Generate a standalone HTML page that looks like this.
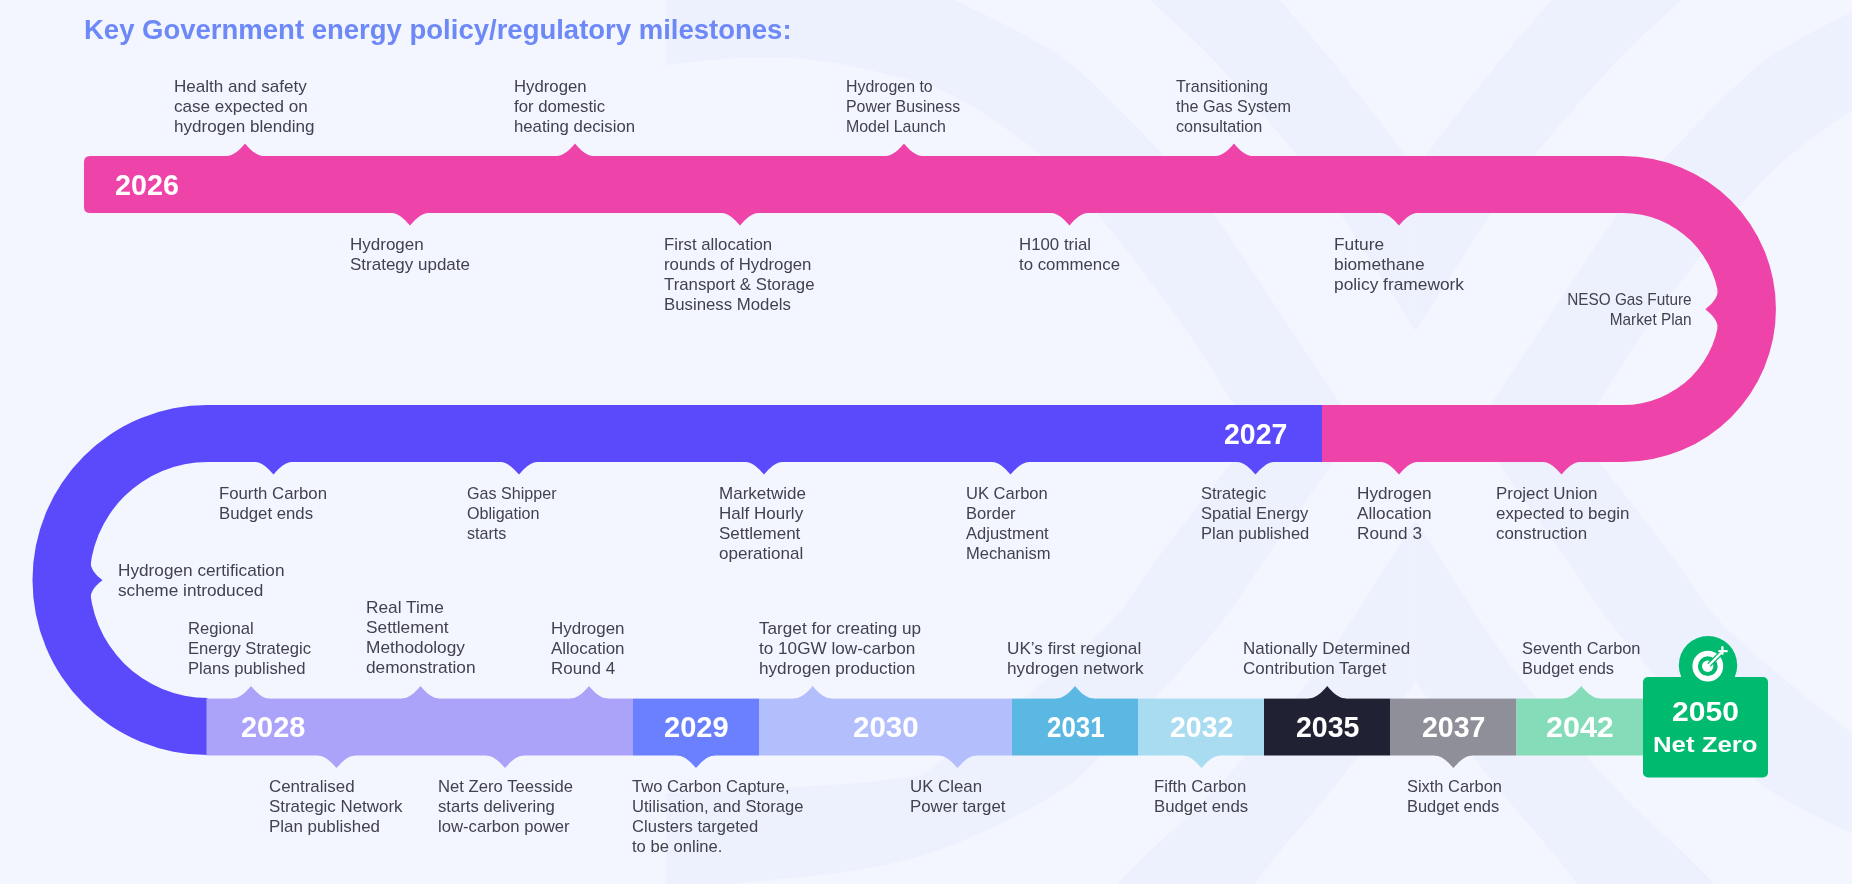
<!DOCTYPE html>
<html><head><meta charset="utf-8"><style>
html,body{margin:0;padding:0;}
body{width:1852px;height:884px;overflow:hidden;position:relative;background:#F3F6FE;font-family:"Liberation Sans",sans-serif;}
.l{position:absolute;font-size:16.6px;line-height:20px;color:#42424F;white-space:nowrap;}
.y{position:absolute;color:#fff;font-weight:bold;white-space:nowrap;}
.t{position:absolute;left:84px;top:12.3px;font-size:27.5px;line-height:36px;font-weight:bold;color:#6D88F7;white-space:nowrap;}
</style></head><body>
<svg width="1852" height="884" viewBox="0 0 1852 884" style="position:absolute;left:0;top:0"><rect x="0" y="0" width="1852" height="884" fill="#F3F6FE"/><defs><clipPath id="cp"><rect x="666.5" y="0" width="1300" height="884"/></clipPath><path id="arm" d="M850,-50 C867.3,-41.7 924.5,-14.4 954.0,0.0 C983.5,14.4 1005.5,24.1 1026.7,36.2 C1047.9,48.3 1058.4,52.8 1081.0,72.4 C1103.6,92.0 1140.4,130.4 1162.4,153.8 C1184.4,177.2 1191.6,183.6 1213.0,213.0 C1234.4,242.4 1270.2,298.8 1291.0,330.0 C1311.8,361.2 1326.8,383.2 1337.6,400.0 C1348.4,416.8 1352.9,425.4 1356.0,430.5 C1341.3,451.2 1292.1,520.9 1268.0,555.0 C1243.9,589.1 1239.2,601.5 1211.2,635.0 C1183.2,668.5 1126.9,729.2 1100.0,756.2 C1073.1,783.2 1074.6,782.5 1050.0,797.3 C1025.4,812.1 983.1,832.9 952.4,844.8 C921.7,856.7 898.8,862.5 866.0,868.6 C833.2,874.7 791.8,877.9 755.8,881.5 C719.8,885.1 667.6,888.6 650.0,890.0 L600,890 L600,795 C611.0,794.8 618.1,796.0 666.0,793.5 C713.9,791.0 840.6,786.2 887.6,780.0 C934.6,773.8 912.6,780.4 947.7,756.2 C982.8,732.0 1062.6,668.5 1098.0,635.0 C1133.4,601.5 1134.2,588.4 1160.0,555.0 C1185.8,521.6 1237.5,454.8 1253.0,434.7 C1249.3,428.9 1242.2,417.4 1231.0,400.0 C1219.8,382.6 1208.3,361.2 1186.0,330.0 C1163.7,298.8 1121.4,242.4 1097.0,213.0 C1072.6,183.6 1063.2,173.3 1039.4,153.8 C1015.6,134.3 979.5,109.2 954.3,96.0 C929.1,82.8 911.4,80.5 888.0,74.5 C864.6,68.5 838.8,62.8 814.0,60.0 C789.2,57.2 763.5,57.2 739.0,58.0 C714.5,58.8 690.2,62.2 667.0,65.0 C643.8,67.8 611.2,73.3 600.0,75.0 L600,-50 Z"/><path id="chev" d="M1415.7,330.8 C1411.3,324.0 1402.0,309.6 1389.4,290.0 C1376.8,270.4 1355.6,235.7 1340.0,213.0 C1324.4,190.3 1317.1,179.5 1296.0,154.0 C1274.9,128.5 1237.8,85.7 1213.5,60.0 C1189.2,34.3 1168.1,17.5 1150.0,0.0 C1131.9,-17.5 1112.5,-37.5 1105.0,-45.0 L1245,-45 C1250.8,-37.5 1265.7,-17.5 1280.0,0.0 C1294.3,17.5 1310.2,34.3 1331.0,60.0 C1351.8,85.7 1390.6,135.3 1404.7,154.0 C1418.8,172.7 1413.9,169.0 1415.7,172.0 Z"/></defs><g clip-path="url(#cp)" fill="#EDF0FD"><use href="#arm"/><use href="#arm" transform="translate(2831.4,0) scale(-1,1)"/><use href="#chev"/><use href="#chev" transform="translate(2831.4,0) scale(-1,1)"/><use href="#chev" transform="translate(0,851.0) scale(1,-1)"/><use href="#chev" transform="translate(2831.4,851.0) scale(-1,-1)"/></g><path d="M90,156 L1623.5,156 L1623.5,213 L90,213 Q84,213 84,207 L84,162 Q84,156 90,156 Z" fill="#EE44AA"/><path d="M1623,156 A153,153 0 0 1 1623,462 L1623,405 A96.5,96 0 0 0 1623,213 Z" fill="#EE44AA"/><rect x="1321.5" y="405" width="302.5" height="57" fill="#EE44AA"/><rect x="206" y="405" width="1116" height="57" fill="#5A4AFC"/><path d="M207.5,405 A175,175 0 0 0 207.5,755 L207.5,698 A118,118 0 0 1 207.5,462 Z" fill="#5A4AFC"/><rect x="206.5" y="698.6" width="426.5" height="56.9" fill="#ABA3FA"/><rect x="633" y="698.6" width="126" height="56.9" fill="#6A80FE"/><rect x="759" y="698.6" width="253" height="56.9" fill="#B3BFFC"/><rect x="1012" y="698.6" width="126" height="56.9" fill="#5AB8E3"/><rect x="1138" y="698.6" width="126" height="56.9" fill="#AADCF1"/><rect x="1264" y="698.6" width="126" height="56.9" fill="#212134"/><rect x="1390" y="698.6" width="126.5" height="56.9" fill="#8F8F99"/><rect x="1516.5" y="698.6" width="143.5" height="56.9" fill="#84DDB8"/><path d="M226.5,156 C233,156 239.5,150 245,143.4 C250.5,150 257,156 263.5,156 L263.5,158 L226.5,158 Z" fill="#EE44AA"/><path d="M556.5,156 C563,156 569.5,150 575,143.4 C580.5,150 587,156 593.5,156 L593.5,158 L556.5,158 Z" fill="#EE44AA"/><path d="M885.5,156 C892,156 898.5,150 904,143.4 C909.5,150 916,156 922.5,156 L922.5,158 L885.5,158 Z" fill="#EE44AA"/><path d="M1215.5,156 C1222,156 1228.5,150 1234,143.4 C1239.5,150 1246,156 1252.5,156 L1252.5,158 L1215.5,158 Z" fill="#EE44AA"/><path d="M391.5,213 C398,213 404.5,219 410,225.6 C415.5,219 422,213 428.5,213 L428.5,211 L391.5,211 Z" fill="#EE44AA"/><path d="M721.5,213 C728,213 734.5,219 740,225.6 C745.5,219 752,213 758.5,213 L758.5,211 L721.5,211 Z" fill="#EE44AA"/><path d="M1051.0,213 C1057.5,213 1064.0,219 1069.5,225.6 C1075.0,219 1081.5,213 1088.0,213 L1088.0,211 L1051.0,211 Z" fill="#EE44AA"/><path d="M1380.5,213 C1387,213 1393.5,219 1399,225.6 C1404.5,219 1411,213 1417.5,213 L1417.5,211 L1380.5,211 Z" fill="#EE44AA"/><path d="M1717.5,290 C1718.6,297 1711.5,304.5 1705.3,309.2 C1711.5,313.9 1718.6,321.4 1717.5,328.4 L1730,328.4 L1730,290 Z" fill="#EE44AA"/><path d="M255.0,462 C261.5,462 268.0,468 273.5,474.6 C279.0,468 285.5,462 292.0,462 L292.0,460 L255.0,460 Z" fill="#5A4AFC"/><path d="M500.5,462 C507,462 513.5,468 519,474.6 C524.5,468 531,462 537.5,462 L537.5,460 L500.5,460 Z" fill="#5A4AFC"/><path d="M745.5,462 C752,462 758.5,468 764,474.6 C769.5,468 776,462 782.5,462 L782.5,460 L745.5,460 Z" fill="#5A4AFC"/><path d="M992.0,462 C998.5,462 1005.0,468 1010.5,474.6 C1016.0,468 1022.5,462 1029.0,462 L1029.0,460 L992.0,460 Z" fill="#5A4AFC"/><path d="M1237.0,462 C1243.5,462 1250.0,468 1255.5,474.6 C1261.0,468 1267.5,462 1274.0,462 L1274.0,460 L1237.0,460 Z" fill="#5A4AFC"/><path d="M1380.5,462 C1387,462 1393.5,468 1399,474.6 C1404.5,468 1411,462 1417.5,462 L1417.5,460 L1380.5,460 Z" fill="#EE44AA"/><path d="M1543.0,462 C1549.5,462 1556.0,468 1561.5,474.6 C1567.0,468 1573.5,462 1580.0,462 L1580.0,460 L1543.0,460 Z" fill="#EE44AA"/><path d="M90.6,561.6 C90.2,568 95,575 102.6,580.2 C95,585.4 90.2,592.4 90.6,598.8 L80,598.8 L80,561.6 Z" fill="#5A4AFC"/><path d="M232.5,698.6 C239,698.6 245.5,692.6 251,686.0 C256.5,692.6 263,698.6 269.5,698.6 L269.5,700.6 L232.5,700.6 Z" fill="#ABA3FA"/><path d="M402.0,698.6 C408.5,698.6 415.0,692.6 420.5,686.0 C426.0,692.6 432.5,698.6 439.0,698.6 L439.0,700.6 L402.0,700.6 Z" fill="#ABA3FA"/><path d="M570.5,698.6 C577,698.6 583.5,692.6 589,686.0 C594.5,692.6 601,698.6 607.5,698.6 L607.5,700.6 L570.5,700.6 Z" fill="#ABA3FA"/><path d="M794.2,698.6 C800.7,698.6 807.2,692.6 812.7,686.0 C818.2,692.6 824.7,698.6 831.2,698.6 L831.2,700.6 L794.2,700.6 Z" fill="#B3BFFC"/><path d="M1056.5,698.6 C1063,698.6 1069.5,692.6 1075,686.0 C1080.5,692.6 1087,698.6 1093.5,698.6 L1093.5,700.6 L1056.5,700.6 Z" fill="#5AB8E3"/><path d="M1308.7,698.6 C1315.2,698.6 1321.7,692.6 1327.2,686.0 C1332.7,692.6 1339.2,698.6 1345.7,698.6 L1345.7,700.6 L1308.7,700.6 Z" fill="#212134"/><path d="M1562.8,698.6 C1569.3,698.6 1575.8,692.6 1581.3,686.0 C1586.8,692.6 1593.3,698.6 1599.8,698.6 L1599.8,700.6 L1562.8,700.6 Z" fill="#84DDB8"/><path d="M318.0,755.5 C324.5,755.5 331.0,761.5 336.5,768.1 C342.0,761.5 348.5,755.5 355.0,755.5 L355.0,753.5 L318.0,753.5 Z" fill="#ABA3FA"/><path d="M486.5,755.5 C493,755.5 499.5,761.5 505,768.1 C510.5,761.5 517,755.5 523.5,755.5 L523.5,753.5 L486.5,753.5 Z" fill="#ABA3FA"/><path d="M677.5,755.5 C684,755.5 690.5,761.5 696,768.1 C701.5,761.5 708,755.5 714.5,755.5 L714.5,753.5 L677.5,753.5 Z" fill="#6A80FE"/><path d="M939.0,755.5 C945.5,755.5 952.0,761.5 957.5,768.1 C963.0,761.5 969.5,755.5 976.0,755.5 L976.0,753.5 L939.0,753.5 Z" fill="#B3BFFC"/><path d="M1183.0,755.5 C1189.5,755.5 1196.0,761.5 1201.5,768.1 C1207.0,761.5 1213.5,755.5 1220.0,755.5 L1220.0,753.5 L1183.0,753.5 Z" fill="#AADCF1"/><path d="M1434.9,755.5 C1441.4,755.5 1447.9,761.5 1453.4,768.1 C1458.9,761.5 1465.4,755.5 1471.9,755.5 L1471.9,753.5 L1434.9,753.5 Z" fill="#8F8F99"/><rect x="1643" y="677" width="125" height="100.5" rx="5" fill="#00BA70"/><circle cx="1708" cy="665.2" r="29.2" fill="#00BA70"/><circle cx="1707.8" cy="666.2" r="12.65" fill="none" stroke="#fff" stroke-width="5.5"/><circle cx="1707.7" cy="666.3" r="5.7" fill="#fff"/><line x1="1709" y1="665" x2="1720.5" y2="653.5" stroke="#00BA70" stroke-width="4.6"/><line x1="1708.5" y1="665.5" x2="1721.5" y2="652.5" stroke="#fff" stroke-width="2.4"/><path d="M1722.4,647.2 L1722.4,653.8 M1719.3,651.2 L1726.7,651.2" fill="none" stroke="#fff" stroke-width="2.3" stroke-linecap="round"/></svg>
<div style="position:absolute;left:0;top:0;width:1852px;height:884px;will-change:transform">
<div class="t">Key Government energy policy/regulatory milestones:</div>
<div class="l" style="left:174.2px;top:76.9px;transform:scaleX(1.0288);transform-origin:0 0">Health and safety<br>case expected on<br>hydrogen blending</div><div class="l" style="left:514.2px;top:76.9px;transform:scaleX(1.0089);transform-origin:0 0">Hydrogen<br>for domestic<br>heating decision</div><div class="l" style="left:846.2px;top:76.9px;transform:scaleX(0.9589);transform-origin:0 0">Hydrogen to<br>Power Business<br>Model Launch</div><div class="l" style="left:1176.2px;top:76.9px;transform:scaleX(0.9742);transform-origin:0 0">Transitioning<br>the Gas System<br>consultation</div><div class="l" style="left:349.7px;top:235.4px;transform:scaleX(1.0241);transform-origin:0 0">Hydrogen<br>Strategy update</div><div class="l" style="left:664.2px;top:235.4px;transform:scaleX(1.0113);transform-origin:0 0">First allocation<br>rounds of Hydrogen<br>Transport &amp; Storage<br>Business Models</div><div class="l" style="left:1019.2px;top:235.4px;transform:scaleX(1.0140);transform-origin:0 0">H100 trial<br>to commence</div><div class="l" style="left:1334.2px;top:235.4px;transform:scaleX(1.0442);transform-origin:0 0">Future<br>biomethane<br>policy framework</div><div class="l" style="left:219.2px;top:484.4px;transform:scaleX(1.0093);transform-origin:0 0">Fourth Carbon<br>Budget ends</div><div class="l" style="left:466.7px;top:484.4px;transform:scaleX(0.9702);transform-origin:0 0">Gas Shipper<br>Obligation<br>starts</div><div class="l" style="left:719.2px;top:484.4px;transform:scaleX(1.0254);transform-origin:0 0">Marketwide<br>Half Hourly<br>Settlement<br>operational</div><div class="l" style="left:966.2px;top:484.4px;transform:scaleX(0.9959);transform-origin:0 0">UK Carbon<br>Border<br>Adjustment<br>Mechanism</div><div class="l" style="left:1201.2px;top:484.4px;transform:scaleX(0.9947);transform-origin:0 0">Strategic<br>Spatial Energy<br>Plan published</div><div class="l" style="left:1357.2px;top:484.4px;transform:scaleX(1.0354);transform-origin:0 0">Hydrogen<br>Allocation<br>Round 3</div><div class="l" style="left:1496.2px;top:484.4px;transform:scaleX(1.0190);transform-origin:0 0">Project Union<br>expected to begin<br>construction</div><div class="l" style="left:118.2px;top:561.2px;transform:scaleX(1.0374);transform-origin:0 0">Hydrogen certification<br>scheme introduced</div><div class="l" style="left:188.2px;top:619.1px;transform:scaleX(1.0027);transform-origin:0 0">Regional<br>Energy Strategic<br>Plans published</div><div class="l" style="left:365.7px;top:598.1px;transform:scaleX(1.0413);transform-origin:0 0">Real Time<br>Settlement<br>Methodology<br>demonstration</div><div class="l" style="left:551.2px;top:619.1px;transform:scaleX(1.0215);transform-origin:0 0">Hydrogen<br>Allocation<br>Round 4</div><div class="l" style="left:759.2px;top:619.1px;transform:scaleX(1.0331);transform-origin:0 0">Target for creating up<br>to 10GW low-carbon<br>hydrogen production</div><div class="l" style="left:1006.9000000000001px;top:639.1px;transform:scaleX(1.0347);transform-origin:0 0">UK’s first regional<br>hydrogen network</div><div class="l" style="left:1243.2px;top:639.1px;transform:scaleX(1.0236);transform-origin:0 0">Nationally Determined<br>Contribution Target</div><div class="l" style="left:1522.2px;top:639.1px;transform:scaleX(0.9880);transform-origin:0 0">Seventh Carbon<br>Budget ends</div><div class="l" style="left:268.9px;top:776.9px;transform:scaleX(1.0194);transform-origin:0 0">Centralised<br>Strategic Network<br>Plan published</div><div class="l" style="left:437.7px;top:776.9px;transform:scaleX(1.0048);transform-origin:0 0">Net Zero Teesside<br>starts delivering<br>low-carbon power</div><div class="l" style="left:632.2px;top:776.9px;transform:scaleX(0.9995);transform-origin:0 0">Two Carbon Capture,<br>Utilisation, and Storage<br>Clusters targeted<br>to be online.</div><div class="l" style="left:909.8000000000001px;top:776.9px;transform:scaleX(1.0151);transform-origin:0 0">UK Clean<br>Power target</div><div class="l" style="left:1154.2px;top:776.9px;transform:scaleX(1.0098);transform-origin:0 0">Fifth Carbon<br>Budget ends</div><div class="l" style="left:1406.6000000000001px;top:776.9px;transform:scaleX(0.9892);transform-origin:0 0">Sixth Carbon<br>Budget ends</div><div class="l" style="right:160.5px;top:290.4px;text-align:right;transform:scaleX(0.9247);transform-origin:100% 0">NESO Gas Future<br>Market Plan</div>
<div class="y" style="left:115.14px;top:166.61px;font-size:29.58px;line-height:35.49px;transform:scaleX(0.9705);transform-origin:0 0">2026</div><div class="y" style="left:1223.65px;top:415.97px;font-size:29.72px;line-height:35.66px;transform:scaleX(0.9581);transform-origin:0 0">2027</div><div class="y" style="left:240.73px;top:708.74px;font-size:29.86px;line-height:35.83px;transform:scaleX(0.9675);transform-origin:0 0">2028</div><div class="y" style="left:664.13px;top:709.48px;font-size:29.30px;line-height:35.15px;transform:scaleX(0.9924);transform-origin:0 0">2029</div><div class="y" style="left:853.01px;top:709.48px;font-size:29.30px;line-height:35.15px;transform:scaleX(1.0082);transform-origin:0 0">2030</div><div class="y" style="left:1046.52px;top:709.48px;font-size:29.30px;line-height:35.15px;transform:scaleX(0.8850);transform-origin:0 0">2031</div><div class="y" style="left:1169.55px;top:709.48px;font-size:29.30px;line-height:35.15px;transform:scaleX(0.9719);transform-origin:0 0">2032</div><div class="y" style="left:1295.54px;top:709.48px;font-size:29.30px;line-height:35.15px;transform:scaleX(0.9735);transform-origin:0 0">2035</div><div class="y" style="left:1421.94px;top:709.48px;font-size:29.30px;line-height:35.15px;transform:scaleX(0.9735);transform-origin:0 0">2037</div><div class="y" style="left:1546.09px;top:709.48px;font-size:29.30px;line-height:35.15px;transform:scaleX(1.0398);transform-origin:0 0">2042</div><div class="y" style="left:1672.20px;top:696.23px;font-size:27.46px;line-height:32.96px;transform:scaleX(1.0957);transform-origin:0 0">2050</div><div class="y" style="left:1653.10px;top:731.06px;font-size:22.86px;line-height:27.43px;transform:scaleX(1.1275);transform-origin:0 0">Net Zero</div>
</div>
</body></html>
